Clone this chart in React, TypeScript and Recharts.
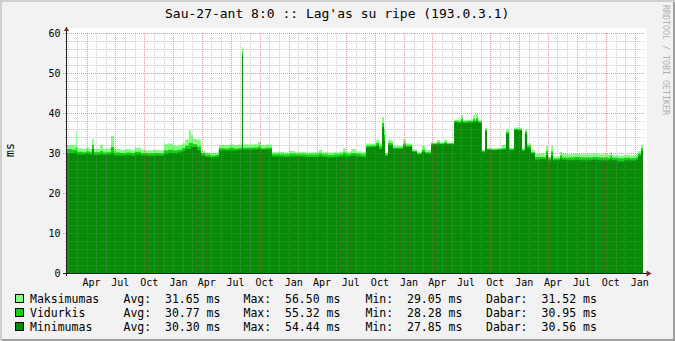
import React from "react";
import { AreaChart, Area, XAxis, YAxis, ReferenceLine } from "recharts";

const MONO = "'DejaVu Sans Mono', monospace";

const START_UTC = Date.UTC(2004, 0, 30);
const END_DAY = 1824;
const MONTH_NAMES = ["Jan", "Feb", "Mar", "Apr", "May", "Jun", "Jul", "Aug", "Sep", "Oct", "Nov", "Dec"];

const Y_TICKS = [0, 10, 20, 30, 40, 50, 60];

// days since START_UTC
const DAYS = [
  0, 16, 28, 31, 48, 60, 73, 79, 85, 105,
  114, 127, 139, 149, 168, 187, 203, 215, 234, 253,
  272, 291, 307, 320, 336, 351, 364, 374, 386, 393,
  399, 412, 424, 437, 453, 469, 481, 497, 513, 529,
  541, 554, 557, 573, 589, 605, 614, 630, 649, 668,
  687, 706, 722, 738, 757, 776, 798, 808, 827, 845,
  864, 874, 883, 899, 915, 931, 947, 963, 979, 988,
  998, 1004, 1007, 1017, 1026, 1032, 1048, 1064, 1074, 1086,
  1093, 1108, 1124, 1134, 1153, 1172, 1181, 1194, 1203, 1226,
  1238, 1248, 1254, 1270, 1286, 1292, 1295, 1302, 1314, 1324,
  1330, 1346, 1362, 1377, 1390, 1400, 1416, 1428, 1441, 1450,
  1457, 1469, 1482, 1498, 1514, 1517, 1523, 1533, 1539, 1552,
  1561, 1568, 1587, 1606, 1624, 1644, 1663, 1682, 1700, 1713,
  1720, 1726, 1745, 1764, 1783, 1802, 1808, 1818, 1824,
];

const MAX_MS = [
  32, 32, 35.5, 31.2, 31, 31.3, 31, 33.5, 31, 32,
  31, 31.2, 34.3, 31, 30.8, 31, 30.8, 31.3, 30.8, 30.7,
  30.8, 30.7, 32.2, 32.4, 31.8, 32, 32.4, 33.4, 35.6, 34.5,
  33.5, 33.4, 30.6, 30.1, 30, 30.1, 32, 32, 32.2, 32,
  32.1, 56.5, 32.2, 32.1, 32.2, 32.8, 32, 32.1, 30.2, 30.3,
  30.1, 30.5, 30.2, 30.3, 30.1, 30.2, 30.8, 30.2, 30.1, 30.2,
  30.3, 31.2, 30.3, 31, 30.4, 30.2, 32.4, 32.3, 33.3, 32.4,
  39, 36, 30, 33.3, 33, 31.8, 31.9, 33.4, 32.4, 32.4,
  30.9, 30.3, 31.8, 30.8, 32.6, 33.3, 32.6, 33.4, 32.6, 38.3,
  38.3, 39.5, 38.2, 38.3, 39.5, 38.3, 39.8, 38.2, 30.9, 36.4,
  31.3, 31.2, 31.3, 32, 35.9, 31.3, 36.4, 36.3, 31.2, 35.8,
  32.4, 30.75, 29.75, 29.8, 29.7, 31.75, 29.2, 31.8, 29.1, 29.1,
  30.3, 29.75, 29.7, 29.8, 29.7, 29.7, 29.8, 29.7, 29.7, 29.5,
  30.3, 29.5, 29.4, 29.5, 29.4, 29.6, 30.5, 32, 31.5,
];

const AVG_MS = [
  31, 30.8, 31.5, 30.3, 30.2, 30.4, 30.2, 32, 30.2, 30.5,
  30.1, 30.2, 31.5, 30.1, 30, 30.1, 30, 30.3, 30, 29.9,
  30, 29.9, 30.6, 30.8, 30.6, 30.8, 31.2, 31.8, 32.5, 32.5,
  32.2, 31.6, 30, 29.6, 29.4, 29.5, 31.2, 31.1, 31.3, 31.1,
  31.2, 55.3, 31.3, 31.3, 31.4, 31.6, 31.2, 31.3, 29.7, 29.7,
  29.6, 29.8, 29.7, 29.7, 29.6, 29.6, 29.9, 29.6, 29.5, 29.6,
  29.7, 30.1, 29.7, 30, 29.8, 29.6, 31.8, 31.9, 32.5, 31.6,
  37.5, 34.5, 29.6, 32.5, 32.4, 31.3, 31.4, 32.3, 31.9, 31.9,
  30.5, 29.9, 30.8, 30.2, 32.4, 32.6, 32.4, 32.7, 32.4, 38,
  37.9, 38.5, 37.9, 38, 38.5, 38, 38.7, 37.9, 30.5, 35.9,
  31, 30.9, 31, 31.2, 35.2, 31, 36, 35.9, 30.8, 35.3,
  31.8, 30.2, 29, 29, 28.9, 30.5, 28.7, 30.4, 28.6, 28.6,
  29.4, 28.9, 28.9, 29, 28.9, 28.9, 29, 28.9, 28.9, 28.8,
  29.3, 28.8, 28.7, 28.8, 28.7, 28.9, 29.8, 31.2, 31,
];

const MIN_MS = [
  30, 30, 30.5, 29.6, 29.6, 29.8, 29.5, 31, 29.5, 29.7,
  29.5, 29.6, 30, 29.4, 29.4, 29.5, 29.3, 29.6, 29.4, 29.3,
  29.4, 29.3, 29.8, 30, 29.9, 30.1, 30.5, 31, 31, 31.5,
  31.5, 30.7, 29.4, 29, 28.9, 29, 30.7, 30.6, 30.7, 30.6,
  30.8, 54.4, 30.9, 30.8, 30.9, 31, 30.8, 30.9, 29.1, 29.1,
  29, 29.2, 29.1, 29.1, 29, 29, 29.2, 29, 28.9, 29,
  29.1, 29.3, 29.1, 29.3, 29.1, 29, 31.4, 31.5, 31.8, 31,
  36.5, 33, 29.3, 32, 31.8, 31, 31, 31.6, 31.5, 31.6,
  30.3, 29.6, 30.3, 29.8, 32.2, 32.2, 32.2, 32.3, 32.2, 37.6,
  37.5, 37.8, 37.5, 37.6, 37.9, 37.6, 38, 37.5, 30.2, 35.5,
  30.75, 30.7, 30.75, 30.8, 34.8, 30.7, 35.75, 35.6, 30.5, 34.8,
  31.2, 29.9, 28.4, 28.5, 28.4, 29.5, 28.2, 29.4, 28.2, 28.2,
  28.6, 28.3, 28.2, 28.3, 28.2, 28.2, 28.3, 28.2, 28.2, 28.2,
  28.5, 28.2, 27.9, 28.2, 28.1, 28.3, 29.2, 30.5, 30.6,
];

const LEGEND_NAMES = ["Maksimumas", "Vidurkis", "Minimumas"];
const LEGEND_AVG = ["31.65", "30.77", "30.30"];
const LEGEND_MAX = ["56.50", "55.32", "54.44"];
const LEGEND_MIN = ["29.05", "28.28", "27.85"];
const LEGEND_NOW = ["31.52", "30.95", "30.56"];

const COLORS = {
  max: "#80ff80",
  avg: "#10d010",
  min: "#088a08",
  grid: "rgba(143,143,143,0.45)",
  mgrid: "rgba(222,79,79,0.6)",
  axis: "#1f1f1f",
  arrow: "#801f1f",
};
const SERIES_COLORS = [COLORS.max, COLORS.avg, COLORS.min];

const chartData = DAYS.map((day, i) => ({
  day,
  max: MAX_MS[i],
  avg: AVG_MS[i],
  min: MIN_MS[i],
}));

// month boundaries inside the range
const monthStarts: { day: number; month: number }[] = [];
for (let y = 2004; y <= 2009; y++) {
  for (let m = 0; m < 12; m++) {
    const d = (Date.UTC(y, m, 1) - START_UTC) / 86400000;
    if (d > 0 && d < END_DAY) monthStarts.push({ day: d, month: m });
  }
}
const QUARTER_DAYS = monthStarts.filter((s) => s.month % 3 === 0).map((s) => s.day);
const MONTH_DAYS = monthStarts.filter((s) => s.month % 3 !== 0).map((s) => s.day);
const MINOR_VALUES = Array.from({ length: 30 }, (_, i) => i * 2).filter((v) => v % 10 !== 0);
const MAJOR_VALUES = Y_TICKS.filter((v) => v > 0);

const vGrid = (color: string) => (p: any) => {
  const x = Math.round(p.x1) + 0.5;
  return <line x1={x} x2={x} y1={Math.min(p.y1, p.y2)} y2={Math.max(p.y1, p.y2)} stroke={color} strokeDasharray="1 1" />;
};
const hGrid = (color: string, extLeft: number) => (p: any) => {
  const y = Math.round(p.y1) + 0.5;
  return <line x1={Math.min(p.x1, p.x2) - extLeft} x2={Math.max(p.x1, p.x2) + 2} y1={y} y2={y} stroke={color} strokeDasharray="1 1" />;
};

const xAxisShape = (p: any) => {
  const y = Math.round(p.y1) + 0.5;
  const x0 = Math.min(p.x1, p.x2);
  const x1 = Math.max(p.x1, p.x2);
  return (
    <g>
      <line x1={x0 - 4} x2={x1 + 4} y1={y} y2={y} stroke={COLORS.axis} />
      <path d={`M${x1 + 3.5},${y - 3} L${x1 + 8.5},${y} L${x1 + 3.5},${y + 3} Z`} fill={COLORS.arrow} />
    </g>
  );
};
const yAxisShape = (p: any) => {
  const x = Math.round(p.x1) - 0.5;
  const top = Math.min(p.y1, p.y2);
  const bottom = Math.max(p.y1, p.y2);
  return (
    <g>
      <line x1={x} x2={x} y1={bottom + 3} y2={top - 3} stroke={COLORS.axis} />
      <path d={`M${x - 2.5},${top - 2} L${x},${top - 6.5} L${x + 2.5},${top - 2} Z`} fill={COLORS.arrow} />
    </g>
  );
};

const XTick = ({ x, y, payload }: any) => {
  const month = new Date(START_UTC + payload.value * 86400000).getUTCMonth();
  return (
    <text x={x + 5} y={y + 12.5} textAnchor="middle" fontSize={10} fontFamily={MONO} fill="#000">
      {MONTH_NAMES[month]}
    </text>
  );
};

const YTick = ({ x, y, payload }: any) => (
  <text x={x - 6.5} y={y + 3.6} textAnchor="end" fontSize={10} fontFamily={MONO} fill="#000">
    {payload.value}
  </text>
);

const LEGEND_BASELINES = [303, 317, 331];
// label x, value x for each legend column
const LEGEND_COLUMNS: [string, number, number, string[]][] = [
  ["Avg:", 123.5, 165, LEGEND_AVG],
  ["Max:", 243.5, 285, LEGEND_MAX],
  ["Min:", 365.5, 407, LEGEND_MIN],
  ["Dabar:", 486, 541.5, LEGEND_NOW],
];

export default function App() {
  return (
    <div
      style={{
        position: "absolute",
        left: 0,
        top: 0,
        width: 675,
        height: 341,
        background: "#f2f2f2",
        boxShadow: "inset 2px 2px 0 #cfcfcf, inset -2px -2px 0 #9e9e9e",
        overflow: "hidden",
      }}
    >
      <div style={{ position: "absolute", left: 67, top: 28, width: 580, height: 245, background: "#fff" }} />
      <div style={{ position: "absolute", left: 0, top: 0 }}>
        <AreaChart width={675} height={341} data={chartData} margin={{ top: 33, right: 32, left: 27, bottom: 38 }}>
          <XAxis
            dataKey="day"
            type="number"
            domain={[0, END_DAY]}
            ticks={QUARTER_DAYS}
            interval={0}
            tick={<XTick />}
            tickSize={0}
            tickMargin={0}
            axisLine={false}
            tickLine={false}
            height={30}
            allowDataOverflow
          />
          <YAxis
            domain={[0, 60]}
            ticks={Y_TICKS}
            interval={0}
            tick={<YTick />}
            tickSize={0}
            tickMargin={0}
            axisLine={false}
            tickLine={false}
            width={40}
            allowDataOverflow
          />
          <Area type="stepAfter" dataKey="max" stroke="none" fill={COLORS.max} fillOpacity={1} dot={false} activeDot={false} isAnimationActive={false} />
          <Area type="stepAfter" dataKey="avg" stroke="none" fill={COLORS.avg} fillOpacity={1} dot={false} activeDot={false} isAnimationActive={false} />
          <Area type="stepAfter" dataKey="min" stroke="none" fill={COLORS.min} fillOpacity={1} dot={false} activeDot={false} isAnimationActive={false} />
          {MONTH_DAYS.map((d) => (
            <ReferenceLine key={`mv${d}`} x={d} shape={vGrid(COLORS.grid)} />
          ))}
          {MINOR_VALUES.map((v) => (
            <ReferenceLine key={`mh${v}`} y={v} shape={hGrid(COLORS.grid, 2)} />
          ))}
          {QUARTER_DAYS.map((d) => (
            <ReferenceLine key={`qv${d}`} x={d} shape={vGrid(COLORS.mgrid)} />
          ))}
          {MAJOR_VALUES.map((v) => (
            <ReferenceLine key={`qh${v}`} y={v} shape={hGrid(COLORS.mgrid, 4)} />
          ))}
          <ReferenceLine y={0} shape={xAxisShape} />
          <ReferenceLine x={0} shape={yAxisShape} />
        </AreaChart>
      </div>
      <svg width={675} height={341} style={{ position: "absolute", left: 0, top: 0, pointerEvents: "none" }}>
        <text x={165} y={18.3} fontSize={13} fontFamily={MONO} fill="#000" xmlSpace="preserve">
          Sau-27-ant 8:0 :: Lag'as su ripe (193.0.3.1)
        </text>
        <text transform="rotate(-90)" x={-150} y={14} textAnchor="middle" fontSize={11.5} fontFamily={MONO} fill="#000">
          ms
        </text>
        <text transform="rotate(90)" x={5} y={-663} fontSize={8.3} fontFamily={MONO} fill="#b0b0b0">
          RRDTOOL / TOBI OETIKER
        </text>
        {LEGEND_NAMES.map((name, i) => {
          const by = LEGEND_BASELINES[i];
          return (
            <g key={name} fontSize={11.5} fontFamily={MONO} fill="#000">
              <rect x={15.5} y={by - 8.5} width={8} height={8} fill={SERIES_COLORS[i]} stroke="#000" />
              <text x={30} y={by}>{name}</text>
              {LEGEND_COLUMNS.map(([label, lx, vx, vals]) => (
                <React.Fragment key={label}>
                  <text x={lx} y={by}>{label}</text>
                  <text x={vx} y={by}>{`${vals[i]} ms`}</text>
                </React.Fragment>
              ))}
            </g>
          );
        })}
      </svg>
    </div>
  );
}
